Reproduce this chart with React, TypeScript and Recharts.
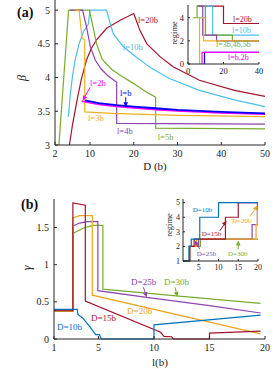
import React from 'react';
import { LineChart, Line, XAxis, YAxis, CartesianGrid, ReferenceLine, ReferenceDot } from 'recharts';

const FONT = '"Liberation Serif", "Times New Roman", serif';
const AX = '#262626';
const TXT = '#222';

const RED = '#A2142F';
const CYAN = '#4DBEEE';
const GREEN = '#77AC30';
const PURPLE = '#8E44AD';
const YELLOW = '#EDB120';
const ORANGE = '#EDA520';
const BLUE = '#0000FF';
const MAG = '#FF00FF';
const MBLUE = '#0072BD';

// panel (a): beta vs D
const dTicks = [2, 10, 20, 30, 40, 50];
const betaTicks = [3, 3.5, 4, 4.5, 5];
const betaL20 = [[5.3, 3], [6, 3.3], [7, 3.65], [8, 3.97], [9.2, 4.26], [10.3, 4.43], [11.5, 4.56], [13.8, 4.73], [16.9, 4.85], [20, 4.95], [20.4, 4.88], [21.4, 4.7], [23, 4.5], [26, 4.31], [29, 4.16], [35, 3.96], [43, 3.81], [50, 3.72]];
const betaL10 = [[5.05, 3.42], [5.5, 3.75], [6, 4.02], [6.6, 4.26], [7.5, 4.5], [8.5, 4.68], [9.6, 4.79], [10, 5], [13.8, 5], [14.2, 4.9], [15.3, 4.65], [17.6, 4.46], [20, 4.33], [24, 4.14], [28, 3.99], [35, 3.81], [43, 3.67], [50, 3.57]];
const betaL5 = [[2.9, 3], [5.1, 5], [9.85, 5], [10.6, 4.78], [11.5, 4.5], [12.8, 4.27], [15, 4.12], [17, 4.03], [20, 3.91], [22.5, 3.8], [25, 3.71], [25, 3.25], [50, 3.24]];
const betaL4 = [[5.5, 5], [8.3, 5], [9.2, 4.75], [10.1, 4.45], [11.2, 4.26], [12.5, 4.13], [14, 4.03], [16.1, 3.93], [16.1, 3.32], [50, 3.31]];
const betaL3 = [[6.5, 5], [7.5, 5], [8.2, 4.58], [8.8, 4.56], [8.8, 3.49], [15, 3.47], [30, 3.44], [50, 3.42]];
const betaL2 = [[8.1, 3.65], [12, 3.6], [16, 3.57], [20, 3.55], [25, 3.525], [30, 3.505], [40, 3.475], [50, 3.455]];
const betaL1 = [[8.9, 3.66], [12, 3.62], [16, 3.59], [20, 3.57], [25, 3.545], [30, 3.52], [40, 3.49], [50, 3.47]];

// inset (a): regime vs D
const insDTicks = [0, 20, 40];
const insRegTicksA = [0, 2, 4];
const regL20 = [[5.3, 5], [20, 3.5], [40, 3.5]];
const regL10 = [[5.05, 4], [9.8, 5], [13.9, 2.5], [40, 2.5]];
const regL5 = [[2.9, 4], [5.1, 5], [9.85, 2.5], [25, 2], [40, 2]];
const regL4 = [[5.5, 5], [8.3, 2.5], [16.1, 2], [40, 2]];
const regL3 = [[6.5, 0], [6.5, 4], [8.8, 2], [40, 2]];
const regL2 = [[7.9, 0], [7.9, 1], [40, 1]];
const regL1 = [[9.3, 0], [9.3, 1], [40, 1]];

// panel (b): gamma vs l
const lTicks = [1, 5, 10, 15, 20];
const gammaTicks = [0, 0.5, 1, 1.5];
const gamD10 = [[1, 0.4], [3.1, 0.4], [3.15, 0.33], [3.6, 0.28], [4.2, 0.17], [4.75, 0.06], [5.1, 0.06], [5.25, 0], [10, 0], [10, 0.19], [19.6, 0.32]];
const gamD15 = [[1, 0.38], [2.7, 0.38], [2.7, 1.83], [3.82, 1.8], [3.82, 0.51], [10.6, 0.09], [10.9, 0.035], [11.6, 0.03], [11.75, 0], [15, 0], [15, 0.08], [19.6, 0.105]];
const gamD20 = [[1, 0.375], [2.7, 0.375], [2.7, 1.63], [3.3, 1.66], [4.45, 1.66], [4.45, 0.59], [19.6, 0.07]];
const gamD25 = [[1, 0.385], [2.7, 0.385], [2.7, 1.52], [3.3, 1.56], [4, 1.58], [4.95, 1.58], [4.95, 0.65], [9.35, 0.56], [15, 0.45], [19.6, 0.35]];
const gamD30 = [[1, 0.37], [2.7, 0.37], [2.7, 1.42], [3.6, 1.49], [4.5, 1.53], [5.4, 1.53], [5.4, 0.67], [12, 0.58], [19.6, 0.48]];

// inset (b): regime vs l
const insLTicks = [5, 10, 15, 20];
const insRegTicksB = [1, 2, 3, 4, 5];
const regD10 = [[1, 1], [2.5, 2], [3.1, 2.5], [5.25, 4], [10, 5], [20, 5]];
const regD15 = [[1, 1], [2.7, 2], [3.82, 2.5], [11.75, 4], [15, 5], [20, 5]];
const regD20 = [[1, 1], [2.7, 2], [4.45, 2.5], [19.5, 3.5], [19.85, 4.5], [20, 4.5]];
const regD25 = [[1, 1], [2.7, 2], [4.95, 2.5], [18.5, 3.5], [19.85, 5], [20, 5]];
const regD30 = [[1, 1], [2.7, 2], [5.4, 2.5], [20, 2.5]];

const xy = (a: number[][]) => a.map(([x, y]) => ({ x, y }));

const seriesA = [
  { key: 'l20', data: betaL20, color: RED, w: 1.2 },
  { key: 'l10', data: betaL10, color: CYAN, w: 1.2 },
  { key: 'l5', data: betaL5, color: GREEN, w: 1.2 },
  { key: 'l4', data: betaL4, color: PURPLE, w: 1.2 },
  { key: 'l3', data: betaL3, color: YELLOW, w: 1.2 },
  { key: 'l2', data: betaL2, color: MAG, w: 1.6 },
  { key: 'l1', data: betaL1, color: BLUE, w: 1.8 },
];
const insetA = [
  { key: 'r20', data: regL20, color: RED },
  { key: 'r10', data: regL10, color: CYAN },
  { key: 'r5', data: regL5, color: GREEN },
  { key: 'r4', data: regL4, color: PURPLE },
  { key: 'r3', data: regL3, color: YELLOW },
  { key: 'r1', data: regL1, color: BLUE },
  { key: 'r2', data: regL2, color: MAG },
];
const seriesB = [
  { key: 'd30', data: gamD30, color: GREEN },
  { key: 'd25', data: gamD25, color: PURPLE },
  { key: 'd20', data: gamD20, color: ORANGE },
  { key: 'd15', data: gamD15, color: RED },
  { key: 'd10', data: gamD10, color: MBLUE },
];
const insetB = [
  { key: 'q30', data: regD30, color: GREEN },
  { key: 'q25', data: regD25, color: PURPLE },
  { key: 'q20', data: regD20, color: ORANGE },
  { key: 'q15', data: regD15, color: RED },
  { key: 'q10', data: regD10, color: MBLUE },
];

// axis titles, centred on (x, y) in page pixels
function Title({ x, y, text, rotate, size = 11, italic }: any) {
  return (
    <g transform={`translate(${x} ${y})${rotate ? ' rotate(-90)' : ''}`}>
      <text x={0} y={size * 0.33} textAnchor="middle" fontFamily={FONT} fontSize={size}
        fontStyle={italic ? 'italic' : 'normal'} fill={TXT}>
        {text}
      </text>
    </g>
  );
}

const arrow = (color: string) => (p: any) => {
  const { x1, y1, x2, y2 } = p;
  const a = Math.atan2(y2 - y1, x2 - x1);
  const L = 5;
  const W = 2.3;
  const bx = x2 - L * Math.cos(a);
  const by = y2 - L * Math.sin(a);
  const s = Math.sin(a);
  const c = Math.cos(a);
  const pts = `${x2},${y2} ${bx - W * s},${by + W * c} ${bx + W * s},${by - W * c}`;
  return (
    <g>
      <line x1={x1} y1={y1} x2={bx} y2={by} stroke={color} strokeWidth={1} />
      <polygon points={pts} fill={color} />
    </g>
  );
};

const tag = (x: number, y: number, text: string, color: string, size: number) => (
  <ReferenceDot
    key={text}
    x={x}
    y={y}
    r={0}
    fill="none"
    stroke="none"
    label={{ value: text, position: 'right', offset: 0, fill: color, fontSize: size, fontFamily: FONT }}
  />
);

const axisProps = (size: number, ts: number, tm: number) => ({
  stroke: AX,
  tickSize: ts,
  tickMargin: tm,
  interval: 0 as const,
  tick: { fill: TXT, fontSize: size, fontFamily: FONT },
});

function PanelA() {
  return (
    <LineChart width={277} height={175} margin={{ top: 0, right: 12, left: 0, bottom: 0 }}>
      <XAxis dataKey="x" type="number" domain={[2, 50]} ticks={dTicks} height={30} {...axisProps(10, -3, 8)} />
      <YAxis type="number" domain={[3, 5.15]} ticks={betaTicks} width={55} {...axisProps(10, -3, 8)} />
      <YAxis yAxisId="r" orientation="right" type="number" domain={[3, 5.15]} ticks={betaTicks} width={0}
        tick={false} tickSize={-3} stroke={AX} />
      {seriesA.map((s) => (
        <Line key={s.key} data={xy(s.data)} dataKey="y" type="linear" stroke={s.color} strokeWidth={s.w}
          dot={false} activeDot={false} isAnimationActive={false} />
      ))}
      <ReferenceLine segment={[{ x: 10, y: 3.855 }, { x: 8.33, y: 3.656 }]} shape={arrow(MAG)} />
      <ReferenceLine segment={[{ x: 18.16, y: 3.707 }, { x: 18.16, y: 3.559 }]} shape={arrow(BLUE)} />
      {tag(20.97, 4.85, 'l=20b', RED, 8.5)}
      {tag(17.5, 4.45, 'l=10b', CYAN, 8.5)}
      {tag(10, 3.92, 'l=2b', MAG, 8.5)}
      {tag(16.86, 3.77, 'l=b', BLUE, 8.5)}
      {tag(9.54, 3.4, 'l=3b', YELLOW, 8.5)}
      {tag(16.17, 3.21, 'l=4b', PURPLE, 8.5)}
      {tag(25.5, 3.12, 'l=5b', GREEN, 8.5)}
    </LineChart>
  );
}

function InsetA() {
  return (
    <LineChart width={100} height={80} margin={{ top: 5, right: 6, left: 0, bottom: 0 }}>
      <CartesianGrid fill="#fff" stroke="none" horizontal={false} vertical={false} />
      <XAxis dataKey="x" type="number" domain={[0, 40]} ticks={insDTicks} height={16} {...axisProps(8.5, -2, 6)} />
      <YAxis type="number" domain={[0, 5.1]} ticks={insRegTicksA} width={23} {...axisProps(8.5, -2, 6)} />
      <XAxis xAxisId="t" orientation="top" dataKey="x" type="number" domain={[0, 40]} ticks={insDTicks} height={0}
        tick={false} tickSize={-2} stroke={AX} />
      <YAxis yAxisId="r" orientation="right" type="number" domain={[0, 5.1]} ticks={insRegTicksA} width={0}
        tick={false} tickSize={-2} stroke={AX} />
      {insetA.map((s) => (
        <Line key={s.key} data={xy(s.data)} dataKey="y" type="stepAfter" stroke={s.color} strokeWidth={1.2}
          dot={false} activeDot={false} isAnimationActive={false} />
      ))}
      {tag(25.4, 3.91, 'l=20b', RED, 8)}
      {tag(24.8, 2.96, 'l=10b', CYAN, 8)}
      {tag(15.8, 1.74, 'l=3b,4b,5b', GREEN, 8)}
      {tag(22.5, 0.61, 'l=b,2b', MAG, 8)}
    </LineChart>
  );
}

function PanelB() {
  return (
    <LineChart width={277} height={184} margin={{ top: 14, right: 12, left: 0, bottom: 0 }}>
      <XAxis dataKey="x" type="number" domain={[1, 20]} ticks={lTicks} height={30} {...axisProps(10, -3, 8)} />
      <YAxis type="number" domain={[0, 1.884]} ticks={gammaTicks} width={54} {...axisProps(10, -3, 8)} />
      <XAxis xAxisId="t" orientation="top" dataKey="x" type="number" domain={[1, 20]} ticks={lTicks} height={0}
        tick={false} tickSize={-3} stroke={AX} />
      <YAxis yAxisId="r" orientation="right" type="number" domain={[0, 1.884]} ticks={gammaTicks} width={0}
        tick={false} tickSize={-3} stroke={AX} />
      {seriesB.map((s) => (
        <Line key={s.key} data={xy(s.data)} dataKey="y" type="linear" stroke={s.color} strokeWidth={1.2}
          dot={false} activeDot={false} isAnimationActive={false} />
      ))}
      <ReferenceLine segment={[{ x: 9.05, y: 0.696 }, { x: 9.35, y: 0.561 }]} shape={arrow(PURPLE)} />
      <ReferenceLine segment={[{ x: 11.9, y: 0.696 }, { x: 12.1, y: 0.569 }]} shape={arrow(GREEN)} />
      {tag(1.27, 0.166, 'D=10b', MBLUE, 9)}
      {tag(4.33, 0.283, 'D=15b', RED, 9)}
      {tag(7.58, 0.38, 'D=20b', ORANGE, 9)}
      {tag(7.94, 0.77, 'D=25b', PURPLE, 9)}
      {tag(10.9, 0.77, 'D=30b', GREEN, 9)}
    </LineChart>
  );
}

function InsetB() {
  return (
    <LineChart width={105} height={90} margin={{ top: 9, right: 7, left: 0, bottom: 0 }}>
      <CartesianGrid fill="#fff" stroke="none" horizontal={false} vertical={false} />
      <XAxis dataKey="x" type="number" domain={[1, 20]} ticks={insLTicks} height={19} {...axisProps(8, -2, 5)} />
      <YAxis type="number" domain={[1, 5.25]} ticks={insRegTicksB} width={23} {...axisProps(8, -2, 5)} />
      <XAxis xAxisId="t" orientation="top" dataKey="x" type="number" domain={[1, 20]} ticks={insLTicks} height={0}
        tick={false} tickSize={-2} stroke={AX} />
      <YAxis yAxisId="r" orientation="right" type="number" domain={[1, 5.25]} ticks={insRegTicksB} width={0}
        tick={false} tickSize={-2} stroke={AX} />
      {insetB.map((s) => (
        <Line key={s.key} data={xy(s.data)} dataKey="y" type="stepAfter" stroke={s.color} strokeWidth={1.2}
          dot={false} activeDot={false} isAnimationActive={false} />
      ))}
      <ReferenceLine segment={[{ x: 10.34, y: 3.07 }, { x: 12.04, y: 3.76 }]} shape={arrow(RED)} />
      <ReferenceLine segment={[{ x: 17.97, y: 4.06 }, { x: 19.93, y: 4.81 }]} shape={arrow(ORANGE)} />
      <ReferenceLine segment={[{ x: 5.25, y: 1.81 }, { x: 3.98, y: 2.4 }]} shape={arrow(PURPLE)} />
      <ReferenceLine segment={[{ x: 15, y: 1.81 }, { x: 15, y: 2.41 }]} shape={arrow(GREEN)} />
      {tag(3.47, 4.52, 'D=10b', MBLUE, 7)}
      {tag(5.76, 2.86, 'D=15b', RED, 7)}
      {tag(13.4, 3.76, 'D=20b', ORANGE, 7)}
      {tag(4.5, 1.48, 'D=25b', PURPLE, 7)}
      {tag(12.4, 1.48, 'D=30b', GREEN, 7)}
    </LineChart>
  );
}

export default function App() {
  return (
    <div style={{ position: 'absolute', left: 0, top: 0, width: 277, height: 369, background: '#fff', overflow: 'hidden' }}>
      <div style={{ position: 'absolute', left: 0, top: 0 }}>
        <PanelA />
      </div>
      <div style={{ position: 'absolute', left: 165, top: 0 }}>
        <InsetA />
      </div>
      <div style={{ position: 'absolute', left: 0, top: 185 }}>
        <PanelB />
      </div>
      <div style={{ position: 'absolute', left: 160, top: 190 }}>
        <InsetB />
      </div>
      <svg width={277} height={369} style={{ position: 'absolute', left: 0, top: 0, pointerEvents: 'none' }}>
        <text x={17} y={17} fontFamily={FONT} fontSize={14} fontWeight="bold" fill="#111">(a)</text>
        <text x={21} y={209} fontFamily={FONT} fontSize={14} fontWeight="bold" fill="#111">(b)</text>
        <Title x={155} y={166} text="D (b)" />
        <Title x={22} y={78} text="β" rotate italic size={12} />
        <Title x={174} y={33} text="regime" rotate size={8.5} />
        <Title x={160} y={362} text="l(b)" />
        <Title x={27} y={268} text="γ" rotate italic size={12} />
        <Title x={169} y={225} text="regime" rotate size={8.5} />
      </svg>
    </div>
  );
}
